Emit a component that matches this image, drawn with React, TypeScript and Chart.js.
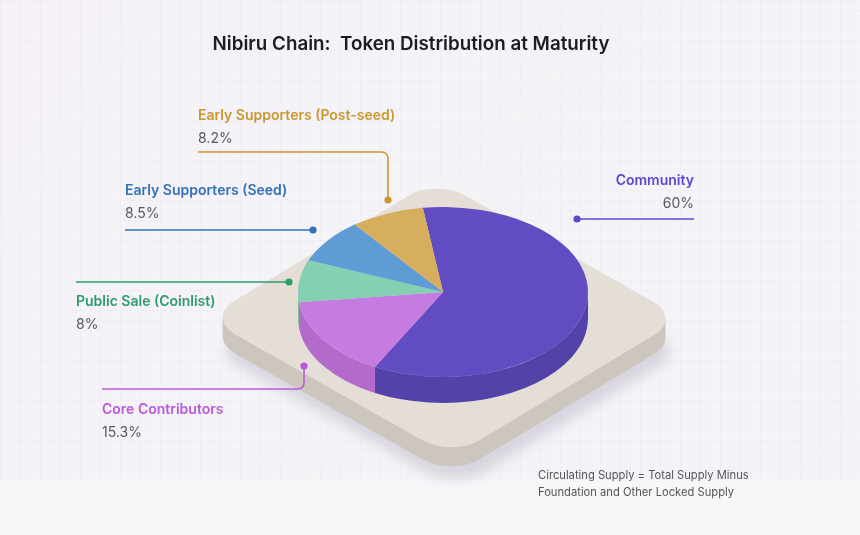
import { useEffect, useRef } from "react";
import { Chart, registerables } from "chart.js";

Chart.register(...registerables);

const categories = [
  "Community",
  "Core Contributors",
  "Public Sale (Coinlist)",
  "Early Supporters (Seed)",
  "Early Supporters (Post-seed)",
];
const shares = [60, 15.3, 8, 8.5, 8.2];
const shareLabels = ["60%", "15.3%", "8%", "8.5%", "8.2%"];

const topColors = ["#614DC1", "#C67BE0", "#84D0B3", "#5F9BD5", "#D6AE5E"];
const sideColors = ["#5343A9", "#B26BCB", "#72BC9F", "#5288BF", "#BF9A52"];
const labelColors = ["#5F46CF", "#B95ADB", "#2E9B6B", "#3471B7", "#C9982F"];

const TITLE = "Nibiru Chain:  Token Distribution at Maturity";
const NOTE = ["Circulating Supply = Total Supply Minus", "Foundation and Other Locked Supply"];

const SQUASH = 0.586;
const DEPTH = 26;
const FONT = "Inter, 'Open Sans', sans-serif";

// label placement for each category (same order as categories)
const callouts = [
  { x: 694, y: 181, align: "right", line: [[577, 219], [694, 219]], dot: [577, 219] },
  { x: 102, y: 410, align: "left", line: [[102, 389], [304, 389], [304, 366]], dot: [304, 366] },
  { x: 76, y: 302, align: "left", line: [[76, 282], [289, 282]], dot: [289, 282] },
  { x: 125, y: 191, align: "left", line: [[125, 230], [313, 230]], dot: [313, 230] },
  { x: 198, y: 116, align: "left", line: [[198, 152], [388, 152], [388, 200]], dot: [388, 200] },
];

// isometric platform: a rounded unit square mapped by an affine transform
const PLAT_ORIGIN = [206, 318];
const PLAT_A = [230, -139];
const PLAT_B = [246, 139];
const PLAT_ROUND = 0.12;

function platformPath(ctx: CanvasRenderingContext2D, dx: number, dy: number) {
  ctx.save();
  ctx.transform(PLAT_A[0], PLAT_A[1], PLAT_B[0], PLAT_B[1], PLAT_ORIGIN[0] + dx, PLAT_ORIGIN[1] + dy);
  ctx.beginPath();
  ctx.roundRect(0, 0, 1, 1, PLAT_ROUND);
  ctx.restore();
}

const scenePlugin = {
  id: "scene",
  beforeDraw(chart: any) {
    const ctx = chart.ctx as CanvasRenderingContext2D;
    const w = chart.width;
    const h = chart.height;
    ctx.save();
    const bg = ctx.createLinearGradient(0, 0, w, h);
    bg.addColorStop(0, "#F6F2F8");
    bg.addColorStop(0.5, "#F4F4F7");
    bg.addColorStop(1, "#F6F3F8");
    ctx.fillStyle = bg;
    ctx.fillRect(0, 0, w, h);
    ctx.fillStyle = "#F7F6F9";
    ctx.fillRect(0, 480, w, h - 480);
    ctx.strokeStyle = "rgba(220,218,232,0.18)";
    ctx.lineWidth = 1;
    ctx.beginPath();
    for (let gx = 0.5; gx < w; gx += 10) {
      ctx.moveTo(gx, 0);
      ctx.lineTo(gx, 480);
    }
    for (let gy = 0.5; gy < 480; gy += 10) {
      ctx.moveTo(0, gy);
      ctx.lineTo(w, gy);
    }
    ctx.stroke();

    // platform shadow
    ctx.save();
    ctx.filter = "blur(6px)";
    ctx.fillStyle = "rgba(196,194,206,0.6)";
    platformPath(ctx, 4, 32);
    ctx.fill();
    ctx.restore();

    // platform side and top
    ctx.fillStyle = "#CDC6BE";
    for (let d = 19; d > 0; d--) {
      platformPath(ctx, 0, d);
      ctx.fill();
    }
    ctx.fillStyle = "#E4DED7";
    platformPath(ctx, 0, 0);
    ctx.fill();
    ctx.restore();
  },
  beforeDatasetsDraw(chart: any) {
    const ctx = chart.ctx as CanvasRenderingContext2D;
    const meta = chart.getDatasetMeta(0);
    const first = meta.data[0];
    const { x, y } = first.getProps(["x", "y"], true);
    ctx.save();
    meta.data.forEach((el: any, i: number) => {
      const p = el.getProps(["startAngle", "endAngle", "outerRadius"], true);
      const R = p.outerRadius;
      const ranges = [
        [-2 * Math.PI, -Math.PI],
        [0, Math.PI],
        [2 * Math.PI, 3 * Math.PI],
      ];
      ranges.forEach(([lo, hi]) => {
        const a = Math.max(lo, p.startAngle);
        const b = Math.min(hi, p.endAngle);
        if (b <= a) return;
        ctx.beginPath();
        ctx.ellipse(x, y, R, R * SQUASH, 0, a, b, false);
        ctx.ellipse(x, y + DEPTH, R, R * SQUASH, 0, b, a, true);
        ctx.closePath();
        ctx.fillStyle = sideColors[i];
        ctx.fill();
      });
    });
    ctx.restore();
    ctx.save();
    ctx.translate(x, y);
    ctx.scale(1, SQUASH);
    ctx.translate(-x, -y);
  },
  afterDatasetsDraw(chart: any) {
    chart.ctx.restore();
  },
  afterDraw(chart: any) {
    const ctx = chart.ctx as CanvasRenderingContext2D;
    ctx.save();
    ctx.textBaseline = "middle";
    ctx.fillStyle = "#1C1C24";
    ctx.font = `600 18.8px ${FONT}`;
    ctx.textAlign = "center";
    ctx.fillText(TITLE, 411, 44);

    categories.forEach((name, i) => {
      const c = callouts[i];
      ctx.strokeStyle = labelColors[i];
      ctx.lineWidth = 1.6;
      ctx.beginPath();
      ctx.moveTo(c.line[0][0], c.line[0][1]);
      for (let k = 1; k < c.line.length; k++) {
        const p = c.line[k];
        const nxt = c.line[k + 1];
        if (nxt) ctx.arcTo(p[0], p[1], nxt[0], nxt[1], 6);
        else ctx.lineTo(p[0], p[1]);
      }
      ctx.stroke();
      ctx.fillStyle = labelColors[i];
      ctx.beginPath();
      ctx.arc(c.dot[0], c.dot[1], 3.6, 0, Math.PI * 2);
      ctx.fill();

      ctx.textAlign = c.align as CanvasTextAlign;
      ctx.font = `600 14px ${FONT}`;
      ctx.fillText(name, c.x, c.y);
      ctx.fillStyle = "#595959";
      ctx.font = `400 14px ${FONT}`;
      ctx.fillText(shareLabels[i], c.x, c.y + 23);
    });

    ctx.textAlign = "left";
    ctx.fillStyle = "#555555";
    ctx.font = `400 11.2px ${FONT}`;
    ctx.fillText(NOTE[0], 538, 476);
    ctx.fillText(NOTE[1], 538, 493);
    ctx.restore();
  },
};

export default function App() {
  const chartRef = useRef<HTMLCanvasElement>(null);
  const chartInstance = useRef<Chart | null>(null);

  useEffect(() => {
    if (!chartRef.current) return;
    if (chartInstance.current) chartInstance.current.destroy();
    const ctx = chartRef.current.getContext("2d");
    if (!ctx) return;

    chartInstance.current = new Chart(ctx, {
      type: "pie",
      data: {
        labels: categories,
        datasets: [
          {
            data: shares,
            backgroundColor: topColors,
            borderWidth: 0,
            hoverOffset: 0,
          },
        ],
      },
      options: {
        responsive: true,
        maintainAspectRatio: false,
        animation: false,
        rotation: -8,
        layout: { padding: { left: 298, right: 272, top: 147, bottom: 98 } },
        plugins: {
          legend: { display: false },
          tooltip: { enabled: false },
        },
        events: [],
      },
      plugins: [scenePlugin],
    });

    return () => {
      if (chartInstance.current) {
        chartInstance.current.destroy();
        chartInstance.current = null;
      }
    };
  }, []);

  return (
    <div style={{ position: "absolute", left: 0, top: 0, width: 860, height: 535 }}>
      <canvas ref={chartRef}></canvas>
    </div>
  );
}
